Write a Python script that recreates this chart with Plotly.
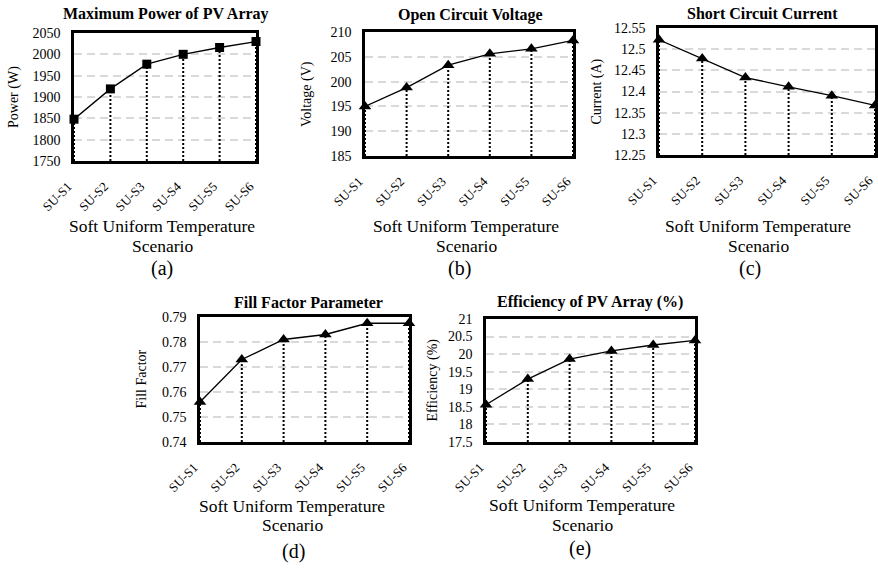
import plotly.graph_objects as go

# ---------------- data ----------------
categories = ["SU-S1", "SU-S2", "SU-S3", "SU-S4", "SU-S5", "SU-S6"]
power = [1848, 1919, 1977, 2000, 2016, 2030]
voltage = [195.0, 198.8, 203.3, 205.6, 206.6, 208.3]
current = [12.522, 12.478, 12.433, 12.411, 12.390, 12.367]
fill_factor = [0.756, 0.773, 0.781, 0.783, 0.7875, 0.7875]
efficiency = [18.56, 19.29, 19.86, 20.09, 20.26, 20.39]

power_ticks = [1750, 1800, 1850, 1900, 1950, 2000, 2050]
voltage_ticks = [185, 190, 195, 200, 205, 210]
current_ticks = [12.25, 12.3, 12.35, 12.4, 12.45, 12.5, 12.55]
ff_ticks = [0.74, 0.75, 0.76, 0.77, 0.78, 0.79]
eff_ticks = [17.5, 18, 18.5, 19, 19.5, 20, 20.5, 21]

titles = ["Maximum Power of PV Array", "Open Circuit Voltage", "Short Circuit Current",
          "Fill Factor Parameter", "Efficiency of PV Array (%)"]
ytitles = ["Power (W)", "Voltage (V)", "Current (A)", "Fill Factor", "Efficiency (%)"]
xtitle_1 = "Soft Uniform Temperature"
xtitle_2 = "Scenario"
panel_labels = ["(a)", "(b)", "(c)", "(d)", "(e)"]

# ---------------- layout geometry (pixels) ----------------
W, H = 878, 568
boxes = [  # left, right, top, bottom
    (74, 256, 33, 161),
    (365, 573, 32, 156),
    (659, 875, 28, 155),
    (200, 409, 317, 442),
    (486, 695, 319, 442),
]
ytitle_x = [14, 307, 597, 141, 432]
title_y = [14, 15, 13, 302, 302]
title_x = [166, 470, 762, 308, 590]
xt_x = [162, 466, 758, 292, 582]
lab_x = [162, 459, 750, 293, 580]
xt1_y = [226.5, 226.5, 226.5, 505.5, 505]
xt2_y = [245.5, 245.5, 245.5, 525, 524.5]
lab_y = [268, 268, 268, 551, 548]

series = [power, voltage, current, fill_factor, efficiency]
ticks = [power_ticks, voltage_ticks, current_ticks, ff_ticks, eff_ticks]
symbols = ["square", "triangle-up", "triangle-up", "triangle-up", "triangle-up"]
msizes = [9, 11, 11, 11, 11]

FONT = "Liberation Serif, Times New Roman, serif"


def px_x(x):
    return x / W


def px_y(y):
    return 1 - y / H


fig = go.Figure()
annotations = []

for i in range(5):
    sfx = "" if i == 0 else str(i + 1)
    xa, ya = "x" + sfx, "y" + sfx
    l, r, t, b = boxes[i]
    vals = series[i]
    tk = ticks[i]
    ymin = tk[0]

    # dotted drop lines from each point down to the axis
    dx, dy = [], []
    for c, v in zip(categories, vals):
        dx += [c, c, None]
        dy += [ymin, v, None]
    fig.add_trace(go.Scatter(x=dx, y=dy, mode="lines", xaxis=xa, yaxis=ya,
                             line=dict(color="black", width=2, dash="2px,2px"),
                             showlegend=False, hoverinfo="skip"))
    fig.add_trace(go.Scatter(x=categories, y=vals, mode="lines+markers", xaxis=xa, yaxis=ya,
                             line=dict(color="black", width=1.3),
                             marker=dict(symbol=symbols[i], size=msizes[i], color="black"),
                             cliponaxis=False, showlegend=False))

    fig.layout["xaxis" + sfx] = dict(
        domain=[px_x(l), px_x(r)], anchor=ya, type="category",
        categoryorder="array", categoryarray=categories,
        range=[0, len(categories) - 1], tickangle=-45,
        tickfont=dict(family=FONT, size=13, color="black"),
        showline=True, linecolor="black", linewidth=2.5, mirror=True,
        showgrid=False, zeroline=False, ticks="", ticklabelstandoff=10,
        ticklabelshift=-6, automargin=False,
    )
    fig.layout["yaxis" + sfx] = dict(
        domain=[px_y(b), px_y(t)], anchor=xa,
        range=[tk[0], tk[-1]], tickvals=tk, ticktext=[str(v) for v in tk],
        tickfont=dict(family=FONT, size=14, color="black"),
        showline=True, linecolor="black", linewidth=2.5, mirror=True,
        showgrid=True, gridcolor="#d9d9d9", gridwidth=1.5, griddash="8px,5px",
        zeroline=False, ticks="", ticklabelstandoff=8, automargin=False,
    )

    annotations.append(dict(text="<b>" + titles[i] + "</b>", x=px_x(title_x[i]), y=px_y(title_y[i]),
                            xref="paper", yref="paper", showarrow=False,
                            xanchor="center", yanchor="middle",
                            font=dict(family=FONT, size=16, color="black")))
    annotations.append(dict(text=ytitles[i], x=px_x(ytitle_x[i]), y=px_y((t + b) / 2),
                            xref="paper", yref="paper", showarrow=False, textangle=-90,
                            xanchor="center", yanchor="middle",
                            font=dict(family=FONT, size=14, color="black")))
    annotations.append(dict(text=xtitle_1, x=px_x(xt_x[i]), y=px_y(xt1_y[i]),
                            xref="paper", yref="paper", showarrow=False,
                            xanchor="center", yanchor="middle",
                            font=dict(family=FONT, size=17.5, color="black")))
    annotations.append(dict(text=xtitle_2, x=px_x(xt_x[i]), y=px_y(xt2_y[i]),
                            xref="paper", yref="paper", showarrow=False,
                            xanchor="center", yanchor="middle",
                            font=dict(family=FONT, size=17.5, color="black")))
    annotations.append(dict(text=panel_labels[i], x=px_x(lab_x[i]), y=px_y(lab_y[i]),
                            xref="paper", yref="paper", showarrow=False,
                            xanchor="center", yanchor="middle",
                            font=dict(family=FONT, size=20, color="black")))

fig.update_layout(
    width=W, height=H, margin=dict(l=0, r=0, t=0, b=0),
    paper_bgcolor="white", plot_bgcolor="white",
    annotations=annotations, showlegend=False,
)

fig.write_html("out.html", config={"displayModeBar": False},
               post_script="document.body.style.margin='0';document.body.style.overflow='hidden';")
